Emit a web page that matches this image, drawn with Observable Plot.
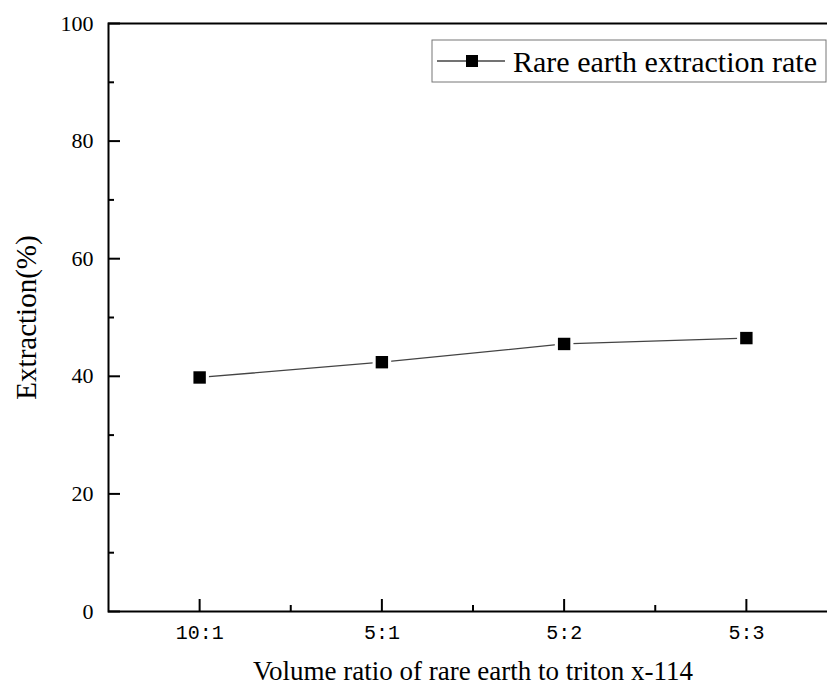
<!DOCTYPE html>
<html>
<head>
<meta charset="utf-8">
<script src="https://cdn.jsdelivr.net/npm/d3@7"></script>
<script src="https://cdn.jsdelivr.net/npm/@observablehq/plot@0.6"></script>
<style>
  html, body { margin: 0; padding: 0; background: #fff; }
  svg { overflow: hidden; }
</style>
</head>
<body>
<div id="chart"></div>
<script>
// Data
const ratios = ["10:1", "5:1", "5:2", "5:3"];
const extraction = [39.8, 42.4, 45.5, 46.5];
const yMajorTicks = [0, 20, 40, 60, 80, 100];
const yMinorTicks = [10, 30, 50, 70, 90];
const xMajorTicks = [1, 2, 3, 4];
const xMinorTicks = [1.5, 2.5, 3.5];
const seriesName = "Rare earth extraction rate";
const xTitle = "Volume ratio of rare earth to triton x-114";
const yTitle = "Extraction(%)";

const data = ratios.map((r, i) => ({idx: i + 1, ratio: r, value: extraction[i]}));

const W = 827, H = 688;
const mL = 108, mR = -10, mT = 23, mB = 77;
const innerW = W - mL - mR, innerH = H - mT - mB;

const serif = "'Liberation Serif', 'DejaVu Serif', serif";
const mono = "'Liberation Mono', 'DejaVu Sans Mono', monospace";

const chart = Plot.plot({
  width: W,
  height: H,
  marginLeft: mL,
  marginRight: mR,
  marginTop: mT,
  marginBottom: mB,
  style: {background: "#fff", color: "#000", fontFamily: serif, overflow: "hidden"},
  x: {domain: [0.5, 4.5], axis: null},
  y: {domain: [0, 100], axis: null},
  marks: [
    // tick labels
    Plot.text(yMajorTicks, {
      y: d => d, text: d => String(d), frameAnchor: "left", dx: -15, textAnchor: "end",
      fontSize: 22, fontFamily: serif, fill: "#000"
    }),
    Plot.text(xMajorTicks, {
      x: d => d, text: d => ratios[d - 1], frameAnchor: "bottom", dy: 27,
      fontSize: 20, fontFamily: mono, fill: "#000"
    }),
    // axis titles
    Plot.text([xTitle], {
      frameAnchor: "bottom", dy: 49, fontSize: 27, fontFamily: serif, lineAnchor: "top",
      textAnchor: "middle", fill: "#000"
    }),
    Plot.text([yTitle], {
      frameAnchor: "left", dx: -82, rotate: -90, fontSize: 29, fontFamily: serif,
      textAnchor: "middle", fill: "#000"
    }),
    // inward ticks
    Plot.ruleY(yMajorTicks, {y: d => d, insetRight: innerW - 12, stroke: "#000", strokeWidth: 2}),
    Plot.ruleY(yMinorTicks, {y: d => d, insetRight: innerW - 6, stroke: "#000", strokeWidth: 2}),
    Plot.ruleX(xMajorTicks, {x: d => d, insetTop: innerH - 12, stroke: "#000", strokeWidth: 2}),
    Plot.ruleX(xMinorTicks, {x: d => d, insetTop: innerH - 6, stroke: "#000", strokeWidth: 2}),
    Plot.frame({stroke: "#000", strokeWidth: 2}),
    Plot.line(data, {x: "idx", y: "value", stroke: "#444", strokeWidth: 1.3}),
    Plot.dot(data, {x: "idx", y: "value", symbol: "square", r: 10.5, fill: "#fff", stroke: "none"}),
    Plot.dot(data, {x: "idx", y: "value", symbol: "square", r: 7, fill: "#000", stroke: "none"})
  ]
});

// Legend inside the plot (top right)
const svg = d3.select(chart);
const lg = svg.append("g").attr("class", "legend").attr("text-anchor", "start");
const bx = 432, by = 40, bw = W - 1 - bx, bh = 42;
lg.append("rect").attr("x", bx).attr("y", by).attr("width", bw).attr("height", bh)
  .attr("fill", "#fff").attr("stroke", "#777").attr("stroke-width", 1);
lg.append("line").attr("x1", bx + 5).attr("x2", bx + 73).attr("y1", by + 21).attr("y2", by + 21)
  .attr("stroke", "#444").attr("stroke-width", 1.3);
lg.append("rect").attr("x", bx + 40 - 6).attr("y", by + 21 - 6).attr("width", 12).attr("height", 12)
  .attr("fill", "#000");
lg.append("text").attr("x", bx + 81).attr("y", by + 21).attr("dy", "0.35em")
  .attr("text-anchor", "start")
  .attr("font-family", serif).attr("font-size", 30).attr("fill", "#000").text(seriesName);

document.getElementById("chart").appendChild(chart);
</script>
</body>
</html>
